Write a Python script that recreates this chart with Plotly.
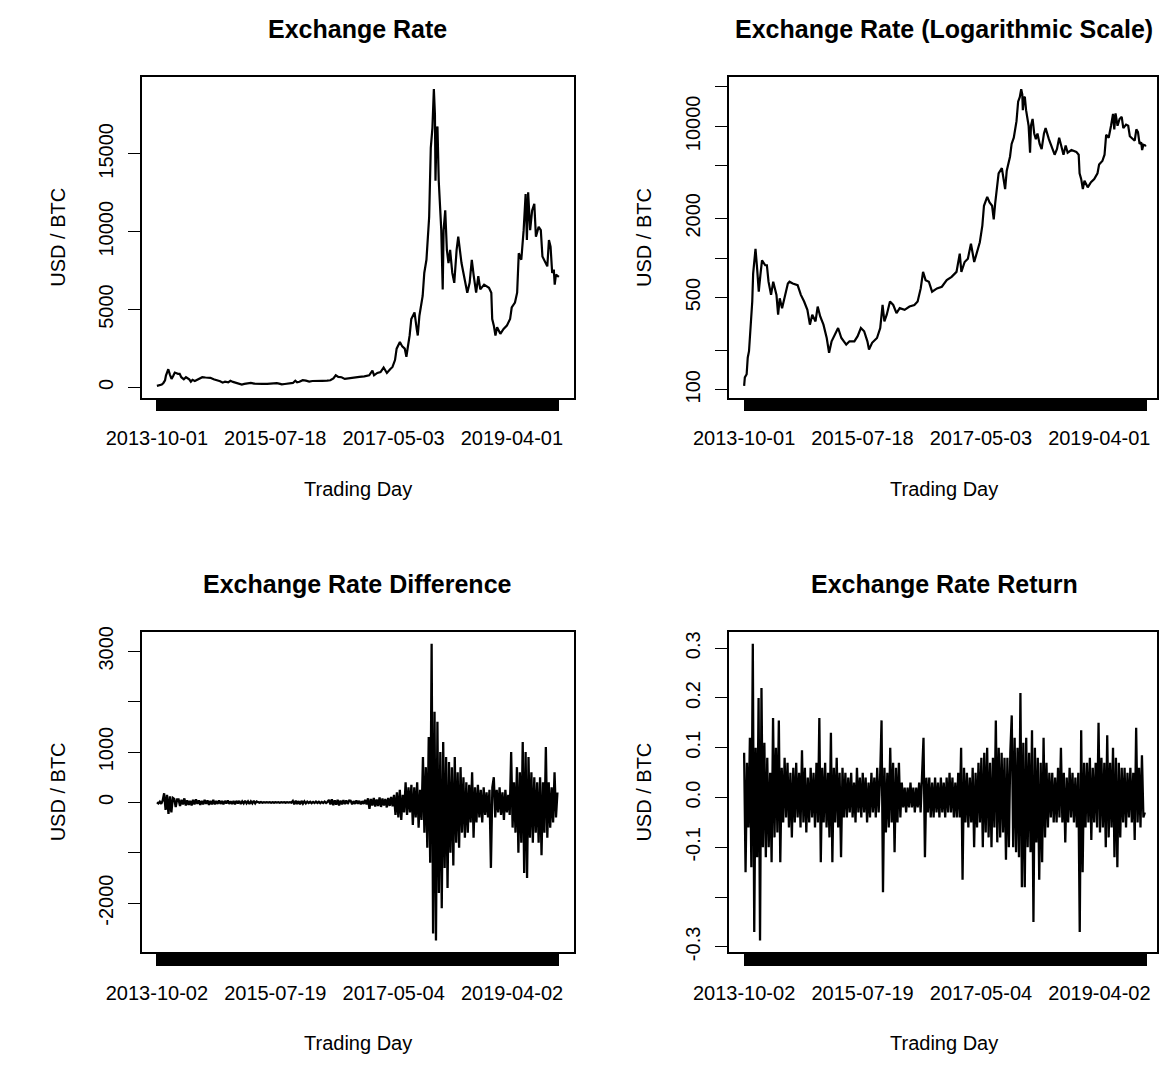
import plotly.graph_objects as go
import numpy as np

W, H = 1159, 1066
FONT = "Liberation Sans, Arial, Helvetica, sans-serif"

# ---------------- data ----------------
N_PRICE = 2225          # number of trading days in the price series
N_DIFF = 2224           # number of differences / returns

price_tick_idx = [1, 656, 1311, 1966]
price_tick_lab = ["2013-10-01", "2015-07-18", "2017-05-03", "2019-04-01"]
diff_tick_lab = ["2013-10-02", "2015-07-19", "2017-05-04", "2019-04-02"]

price_day = [1, 5, 15, 21, 28, 37, 46, 51, 64, 73, 82, 91, 100, 118, 127, 136, 150, 162,
             180, 189, 198, 211, 225, 243, 252, 270, 297, 315, 333, 351, 365, 378, 396,
             408, 422, 440, 458, 471, 485, 503, 521, 539, 566, 584, 611, 629, 647, 665,
             683, 692, 709, 736, 754, 767, 777, 790, 808, 826, 844, 862, 889, 916, 943,
             961, 978, 991, 1005, 1023, 1041, 1068, 1095, 1122, 1149, 1176, 1194, 1203,
             1221, 1239, 1256, 1274, 1292, 1305, 1319, 1328, 1346, 1359, 1373, 1382, 1390,
             1400, 1409, 1427, 1439, 1445, 1454, 1472, 1481, 1493, 1508, 1517, 1526, 1534,
             1540, 1543, 1549, 1554, 1561, 1570, 1575, 1583, 1588, 1597, 1606, 1615, 1624,
             1636, 1647, 1660, 1669, 1687, 1705, 1719, 1732, 1744, 1755, 1768, 1780, 1791,
             1812, 1839, 1852, 1857, 1866, 1875, 1884, 1902, 1920, 1938, 1956, 1965, 1983,
             1995, 2004, 2018, 2031, 2042, 2049, 2056, 2067, 2078, 2090, 2099, 2114, 2126,
             2135, 2150, 2162, 2171, 2180, 2189, 2198, 2203, 2210, 2221, 2225]
price_usd = [107, 124, 131, 175, 196, 294, 467, 762, 1175, 831, 555, 741, 958, 881, 881, 661,
             525, 661, 525, 371, 494, 416, 494, 641, 661, 641, 623, 525, 467, 404, 312, 371,
             330, 428, 360, 312, 247, 191, 233, 262, 294, 247, 220, 233, 233, 255, 294, 278,
             233, 202, 227, 247, 294, 440, 330, 371, 467, 440, 381, 416, 404, 428, 440, 467,
             588, 785, 679, 661, 555, 588, 605, 679, 720, 785, 1079, 785, 933, 989, 1282, 933,
             1175, 1318, 1762, 2493, 2916, 2638, 2493, 1965, 2600, 3339, 4395, 4818, 3761,
             3339, 4606, 5874, 7353, 8198, 10945, 15380, 16650, 19150, 17500, 13270, 16440,
             16756, 13270, 11580, 10100, 6297, 10100, 11370, 8830, 7987, 8830, 7353, 6720,
             8830, 9680, 7987, 6930, 6085, 6720, 8198, 7142, 6085, 7142, 6297, 6600, 6400,
             6085, 4395, 3972, 3339, 3867, 3444, 3761, 3972, 4395, 5135, 5450, 6085, 8620,
             8198, 10100, 12424, 9466, 12530, 10100, 11370, 11790, 9680, 10310, 10100, 8410,
             7987, 7776, 9466, 9043, 7353, 7564, 6600, 7248, 7142, 7200]

noise_step = 8   # one read value every 8 trading days
diff_usd = [0, -20, 15, -30, 40,
            180, -150, 150, -230, 120, -200, 90,
            70, -90, 60,
            60, -70, 50, -40, 80, -60, 40, -50, 30, -60, 50, -40, 60, -30, 40, -50, 30, -40,
            50, -30, 40, -50, 30, -40, 50, -40, 30, -30, 40, -30, 30, -40, 30, -20, 40, -30,
            20, -30, 30, -40, 30, -20, 30, -30, 20, -20, 30, -20, 20, -30, 20, -20, 30, -20, 20,
            5, -5, 8, -6, 5, -4, 6, -5, 4, -6, 5, -5, 6, -4, 5, -6, 4, -5, 6, -5, 5, -4, 6, -5,
            30, -40, 35, -30, 25, -35, 30, -25, 20, -20,
            15, -10, 12, -15, 10, -12, 15, -10, 12, -15, 10, -12, 15, -10, 12,
            50, -40, 60, -55, 40, -45, 50, -60, 35, -40, 45, -35, 40, -30, 35,
            30, -35, 25, -30, 40, -25, 30, -35, 25, -30, 50, -40,
            80, -130, 70, -60, 90, -80, 60, -70, 100, -90, 80, -60, 70, -100, 90, -70, 110, -80,
            150, -250, 200, -300, 250, -350, 150, -200, 400, -250, 300, -200, 350, -450, 300,
            -300, 400, -500, 250, -350,
            900, -600, 700, -900, 1300, -1200, 3150, -2600, 1800, -2740, 1600, -1800, 1000,
            -2100, 1200, -1300,
            900, -1700, 800, -1000, 700, -1250, 900, -800, 600, -900, 700, -600, 500, -700,
            400, -600, 350, -400, 600, -700, 300, -400, 350, -300, 250, -400, 300, -250, 200,
            -300, 250,
            -1300, 300,
            500, -300, 250, -200, 300, -250, 200, -350, 250, -200, 150, -250,
            1000, -500, 400, -600, 700, -1000, 600, -800, 1200, -1400, 1000, -1500, 900, -700,
            600, -800, 500, -600,
            400, -800, 500, -1050, 400, -600, 1100, -700, 400, -500, 300, -400, 600, -300, 200]

ret_val = [0.09, -0.15, 0.07, -0.06, 0.12, -0.14, 0.309, -0.27, 0.1, -0.12, 0.2, -0.287, 0.22, -0.1,
           0.11, -0.12, 0.08, -0.1, 0.05, -0.13, 0.16, -0.08, 0.1, -0.07, 0.155, -0.13,
           0.06, -0.05, 0.08, -0.04, 0.07, -0.06, 0.05, -0.08, 0.06, -0.05, 0.07, -0.04, 0.05,
           -0.06, 0.095, -0.05, 0.06, -0.07, 0.04, -0.05, 0.06, -0.04,
           0.05, -0.06, 0.07, -0.05, 0.16, -0.13, 0.06, -0.05, 0.07, -0.06, 0.05, -0.08, 0.13,
           -0.13, 0.06, -0.05, 0.08, -0.06, 0.05, -0.12, 0.06, -0.04, 0.05, -0.04,
           0.04, -0.03, 0.05, -0.04, 0.03, -0.05, 0.06, -0.03, 0.04, -0.04, 0.05, -0.03, 0.04,
           -0.05, 0.03, -0.04, 0.05, -0.03, 0.04, -0.04, 0.06, -0.03, 0.04,
           0.155, -0.19,
           0.06, -0.07, 0.05, -0.06, 0.1, -0.05, 0.07, -0.11, 0.06, -0.05, 0.07, -0.04,
           0.03, -0.02, 0.02, -0.03, 0.02, -0.02, 0.03, -0.02, 0.02, -0.03, 0.02, -0.02, 0.03,
           -0.03, 0.04,
           0.12, -0.12,
           0.04, -0.03, 0.04, -0.04, 0.03, -0.04, 0.04, -0.03, 0.03, -0.04, 0.04, -0.03, 0.03,
           -0.04, 0.04, -0.03, 0.05, -0.03, 0.04, -0.04, 0.03, -0.04, 0.05, -0.04,
           0.1, -0.165,
           0.06, -0.05, 0.05, -0.06, 0.04, -0.05, 0.06, -0.1, 0.05, -0.06, 0.07, -0.05,
           0.08, -0.1, 0.09, -0.07, 0.1, -0.08, 0.07, -0.1, 0.08, -0.06, 0.155, -0.09, 0.1,
           -0.08, 0.09, -0.07, 0.08, -0.125, 0.08, -0.1, 0.09,
           0.165, -0.1, 0.12, -0.11, 0.1, -0.12, 0.21, -0.18, 0.11, -0.18, 0.12, -0.1, 0.09, -0.11,
           0.135, -0.25, 0.1, -0.09, 0.08, -0.165,
           0.07, -0.13, 0.12, -0.08, 0.07, -0.06,
           0.05, -0.04, 0.05, -0.05, 0.04, -0.05, 0.06, -0.04, 0.1, -0.05, 0.05, -0.09, 0.04,
           -0.05, 0.06, -0.04, 0.05, -0.05, 0.04, -0.06, 0.05,
           -0.27, 0.135, -0.15, 0.07,
           -0.06, 0.07, -0.05, 0.08, -0.085, 0.06, -0.05, 0.07, -0.06, 0.15,
           -0.07, 0.08, -0.06, 0.07, -0.1, 0.125, -0.08, 0.07, -0.06, 0.1, -0.12, 0.08, -0.14,
           0.07, -0.08, 0.06,
           -0.05, 0.06, -0.06, 0.05, -0.04, 0.06, -0.05, 0.05, -0.085, 0.14, -0.05, 0.06,
           -0.06, 0.085, -0.04, -0.03]

noise_day = [1 + noise_step * i for i in range(len(diff_usd))]

# ---------------- layout geometry (pixels) ----------------
ROW_OFF = 562.5
FR_L = (110.0, 556.0)        # left column frame x
FR_R = (715.5, 1157.0)       # right column frame x (image is cut on the right)
FR_T = (72.3, 397.3)         # top row frame y
FR_B = (FR_T[0] + ROW_OFF, FR_T[1] + ROW_OFF)
DATA_L = (125.7, 540.0)      # pixel span of first..last trading day, left column
DATA_R = (731.2, 1145.7)
TXT_CX = (333.0, 937.5)      # centre of titles / x-labels per column
YLAB_X = (24.0, 628.5)


def xdom(fr):
    return [fr[0] / W, fr[1] / W]


def ydom(fr):
    return [1 - fr[1] / H, 1 - fr[0] / H]


def xrange_for(n, fr, dat):
    a = (dat[1] - dat[0]) / (n - 1)
    return [1 - (dat[0] - fr[0]) / a, n + (fr[1] - dat[1]) / a]


def r_range(vals, log=False):
    v = np.log10(vals) if log else np.asarray(vals, dtype=float)
    lo, hi = float(np.min(v)), float(np.max(v))
    pad = 0.04 * (hi - lo)
    return [lo - pad, hi + pad]


fig = go.Figure()
pline = dict(color="black", width=2.2)
nline = dict(color="black", width=2.3)
fig.add_trace(go.Scatter(x=price_day, y=price_usd, mode="lines", line=pline,
                         xaxis="x", yaxis="y", showlegend=False))
fig.add_trace(go.Scatter(x=price_day, y=price_usd, mode="lines", line=pline,
                         xaxis="x2", yaxis="y2", showlegend=False))
fig.add_trace(go.Scatter(x=noise_day, y=diff_usd, mode="lines", line=nline,
                         xaxis="x3", yaxis="y3", showlegend=False))
fig.add_trace(go.Scatter(x=noise_day, y=ret_val, mode="lines", line=nline,
                         xaxis="x4", yaxis="y4", showlegend=False))

tickfont = dict(family=FONT, size=20, color="black")


def xax(n, fr, dat, labels, anchor):
    return dict(domain=xdom(fr), range=xrange_for(n, fr, dat), anchor=anchor,
                showgrid=False, zeroline=False, showline=True, mirror=True,
                linecolor="black", linewidth=1.5,
                tickmode="array", tickvals=price_tick_idx, ticktext=labels,
                ticks="outside", ticklen=12, tickwidth=1.2, tickcolor="black",
                tickfont=tickfont, ticklabelstandoff=10,
                minor=dict(tickmode="array", tickvals=list(range(1, n + 1)),
                           ticks="outside", ticklen=12, tickwidth=1, tickcolor="black",
                           showgrid=False))


def yax(fr, rng, tv, tt, anchor, log=False):
    d = dict(domain=ydom(fr), range=rng, anchor=anchor,
             showgrid=False, zeroline=False, showline=True, mirror=True,
             linecolor="black", linewidth=1.5,
             tickmode="array", tickvals=tv, ticktext=tt, tickangle=-90,
             ticks="outside", ticklen=12, tickwidth=1.2, tickcolor="black",
             tickfont=tickfont, ticklabelstandoff=7)
    if log:
        d["type"] = "log"
    return d


fig.update_layout(
    width=W, height=H, autosize=False,
    margin=dict(l=0, r=0, t=0, b=0),
    paper_bgcolor="white", plot_bgcolor="white",
    font=dict(family=FONT, color="black"),
    xaxis=xax(N_PRICE, FR_L, DATA_L, price_tick_lab, "y"),
    yaxis=yax(FR_T, r_range(price_usd), [0, 5000, 10000, 15000],
              ["0", "5000", "10000", "15000"], "x"),
    xaxis2=xax(N_PRICE, FR_R, DATA_R, price_tick_lab, "y2"),
    yaxis2=yax(FR_T, r_range(price_usd, log=True),
               [100, 200, 500, 1000, 2000, 5000, 10000, 20000],
               ["100", "", "500", "", "2000", "", "10000", ""], "x2", log=True),
    xaxis3=xax(N_DIFF, FR_L, DATA_L, diff_tick_lab, "y3"),
    yaxis3=yax(FR_B, r_range(diff_usd), [-2000, -1000, 0, 1000, 2000, 3000],
               ["-2000", "", "0", "1000", "", "3000"], "x3"),
    xaxis4=xax(N_DIFF, FR_R, DATA_R, diff_tick_lab, "y4"),
    yaxis4=yax(FR_B, r_range(ret_val), [-0.3, -0.2, -0.1, 0.0, 0.1, 0.2, 0.3],
               ["-0.3", "", "-0.1", "0.0", "0.1", "0.2", "0.3"], "x4"),
)

titles = ["Exchange Rate", "Exchange Rate (Logarithmic Scale)",
          "Exchange Rate Difference", "Exchange Rate Return"]
cells = [(0, FR_T), (1, FR_T), (0, FR_B), (1, FR_B)]

ann = []
for title, (col, fy) in zip(titles, cells):
    cx = TXT_CX[col]
    ann.append(dict(text="<b>%s</b>" % title, x=cx / W, y=1 - (fy[0] - 48.5) / H,
                    xref="paper", yref="paper", xanchor="center", yanchor="middle",
                    showarrow=False, borderpad=0,
                    font=dict(family=FONT, size=25, color="black")))
    ann.append(dict(text="Trading Day", x=cx / W, y=1 - (fy[1] + 92.5) / H,
                    xref="paper", yref="paper", xanchor="center", yanchor="middle",
                    showarrow=False, font=dict(family=FONT, size=20, color="black")))
    ann.append(dict(text="USD / BTC", x=YLAB_X[col] / W, y=1 - ((fy[0] + fy[1]) / 2) / H,
                    xref="paper", yref="paper", xanchor="center", yanchor="middle",
                    textangle=-90, showarrow=False,
                    font=dict(family=FONT, size=20, color="black")))
fig.update_layout(annotations=ann)

fig.write_html("out.html",
               config={"displayModeBar": False},
               post_script="document.body.style.margin='0px';"
                           "document.documentElement.style.overflow='hidden';")
